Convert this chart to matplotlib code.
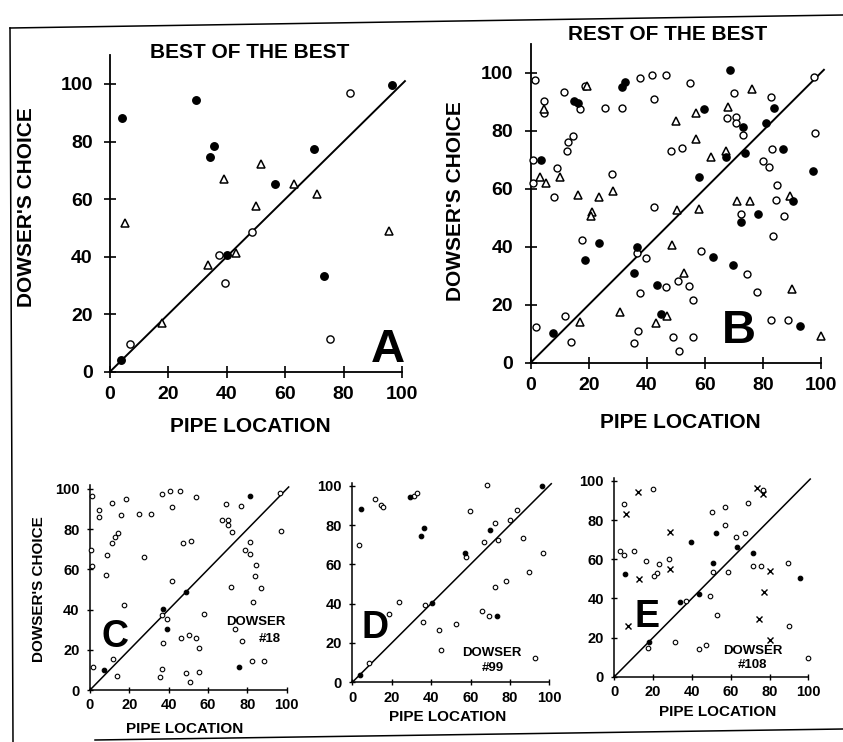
import matplotlib
matplotlib.use("Agg")
import matplotlib.pyplot as plt
from matplotlib.lines import Line2D

plt.rcParams['font.family'] = ['Liberation Sans', 'DejaVu Sans']
plt.rcParams['font.weight'] = 'bold'
NARROW = ['Liberation Sans Narrow', 'Liberation Sans', 'DejaVu Sans']

# ---- data (pipe location, dowser's choice) ----
a_filled = [(4.2, 88.1), (29.3, 94.6), (35.6, 78.3), (34.4, 74.5), (69.8, 77.3),
            (56.4, 65.4), (39.9, 40.6), (73.4, 33.3), (96.6, 99.8), (3.9, 4.1)]
a_open = [(82.1, 96.9), (6.8, 9.8), (48.7, 48.4), (37.3, 40.6), (39.3, 30.7), (75.5, 11.2)]
a_tri = [(5.1, 51.6), (17.7, 16.8), (33.5, 37.2), (43.1, 41.1), (38.9, 66.9),
         (49.9, 57.6), (51.7, 72.2), (62.9, 65.1), (70.8, 61.9), (95.4, 48.9)]

b_open = [(1.4, 97.5), (0.7, 69.9), (0.7, 62.1), (4.5, 90.1), (4.5, 86.2), (11.5, 93.3),
          (9.2, 67.2), (8.0, 57.2), (12.6, 73.1), (13.0, 76.1), (14.7, 78.2), (16.9, 87.5),
          (18.6, 95.4), (25.5, 87.8), (31.6, 87.8), (28.0, 65.2), (37.5, 98.3), (41.8, 99.2),
          (46.7, 99.3), (42.6, 90.9), (54.8, 96.3), (42.4, 53.7), (48.2, 73.1), (52.0, 74.0),
          (67.7, 84.4), (70.8, 84.6), (70.8, 82.5), (70.0, 92.9), (73.2, 78.6), (82.9, 91.6),
          (83.1, 73.7), (80.1, 69.4), (82.0, 67.6), (85.0, 61.4), (84.4, 56.2), (87.4, 50.7),
          (72.3, 51.3), (97.7, 98.5), (97.9, 79.3), (1.7, 12.2), (11.9, 16.2), (13.9, 7.2),
          (17.7, 42.3), (36.5, 37.9), (39.6, 36.0), (37.8, 23.9), (36.9, 11.0), (35.7, 6.7),
          (46.7, 26.2), (50.7, 28.3), (54.5, 26.4), (55.8, 21.5), (49.1, 9.0), (51.2, 3.9),
          (55.8, 9.0), (58.6, 38.4), (74.6, 30.6), (77.8, 24.5), (83.6, 43.7), (82.8, 14.6),
          (88.7, 14.7)]
b_filled = [(3.7, 69.8), (15.0, 90.4), (16.2, 89.5), (31.6, 94.9), (32.6, 96.9), (59.8, 87.4),
            (58.1, 64.0), (68.7, 100.8), (73.2, 81.4), (67.3, 71.0), (73.9, 72.4), (81.1, 82.5),
            (83.9, 87.8), (87.0, 73.7), (97.1, 66.1), (90.2, 55.6), (78.4, 51.3), (72.3, 48.5),
            (7.8, 10.1), (18.6, 35.4), (23.4, 41.4), (36.5, 40.0), (35.5, 30.8), (43.5, 26.9),
            (44.8, 16.9), (62.7, 36.6), (69.6, 33.7), (92.8, 12.8)]
b_tri = [(3.2, 64.1), (5.3, 61.8), (10.1, 64.0), (19.3, 95.4), (4.6, 87.5), (16.4, 57.7),
         (23.4, 57.2), (28.2, 59.1), (21.1, 52.1), (20.6, 50.7), (50.1, 83.4), (56.9, 86.0),
         (56.9, 77.0), (62.2, 70.8), (67.2, 73.1), (67.9, 88.3), (76.3, 94.4), (50.5, 52.6),
         (58.1, 53.0), (71.2, 55.7), (75.5, 55.7), (89.3, 57.5), (17.0, 13.9), (30.9, 17.4),
         (43.1, 13.6), (46.9, 16.1), (48.8, 40.6), (52.8, 31.0), (89.9, 25.5), (100.0, 9.1)]

c_open = [(1.2, 96.7), (0.3, 69.7), (0.8, 61.9), (4.4, 89.7), (4.4, 85.9), (11.0, 92.9),
          (8.6, 67.0), (8.1, 57.0), (11.4, 73.1), (12.5, 76.1), (14.1, 77.9), (15.9, 87.1),
          (18.1, 95.2), (24.9, 87.6), (31.0, 87.6), (27.5, 66.0), (17.1, 42.1), (1.7, 11.4),
          (11.9, 15.6), (13.9, 6.8), (36.8, 97.7), (40.8, 98.8), (45.6, 98.8), (41.9, 90.9),
          (53.7, 96.2), (41.9, 54.1), (47.3, 73.0), (51.2, 74.3), (36.8, 37.5), (39.2, 35.5),
          (37.1, 23.2), (36.6, 10.4), (35.6, 6.5), (46.3, 25.7), (50.5, 27.5), (54.1, 25.9),
          (55.4, 20.7), (48.8, 8.6), (50.8, 3.8), (55.6, 8.8), (58.1, 37.8), (69.0, 92.4),
          (66.9, 84.4), (70.2, 84.6), (70.2, 82.1), (72.0, 78.6), (76.8, 91.7), (81.5, 73.8),
          (78.8, 69.7), (81.2, 67.5), (84.4, 62.0), (83.7, 56.7), (86.8, 50.9), (71.7, 51.4),
          (82.7, 43.6), (73.9, 30.2), (77.1, 24.2), (82.4, 14.3), (88.5, 14.3), (96.6, 98.2),
          (96.9, 79.3)]
c_filled = [(6.9, 9.8), (36.9, 40.5), (39.2, 30.5), (48.8, 48.8), (81.5, 96.7), (75.6, 11.3)]

d_open = [(3.6, 70.0), (11.3, 93.1), (14.4, 90.3), (15.6, 89.0), (31.3, 94.6), (32.7, 96.3),
          (18.6, 34.9), (23.7, 41.0), (8.6, 10.0), (36.7, 39.5), (35.7, 30.5), (43.8, 26.4),
          (45.2, 16.6), (52.8, 29.8), (59.6, 87.1), (57.7, 63.7), (68.4, 100.3), (66.7, 71.5),
          (72.6, 81.2), (73.8, 72.4), (79.9, 82.5), (83.6, 87.6), (86.5, 73.6), (65.8, 36.1),
          (69.4, 33.6), (72.3, 48.5), (78.2, 51.4), (89.8, 55.9), (96.8, 65.9), (92.6, 12.5)]
d_filled = [(4.6, 88.1), (29.3, 94.4), (36.2, 78.5), (34.9, 74.2), (57.0, 65.9), (69.9, 77.5),
            (73.6, 33.6), (40.6, 40.5), (96.4, 100.0), (3.9, 3.7)]

e_open = [(5.2, 88.2), (2.9, 64.2), (5.2, 62.0), (10.0, 64.2), (19.8, 95.9), (16.3, 58.9),
          (23.0, 57.8), (28.2, 60.0), (21.8, 52.8), (20.4, 51.4), (17.2, 14.7), (31.3, 17.7),
          (37.1, 38.5), (43.6, 14.0), (47.1, 16.4), (49.1, 41.2), (52.9, 31.3), (50.5, 84.0),
          (57.0, 86.5), (57.0, 77.7), (50.9, 53.5), (58.8, 53.5), (62.5, 71.6), (67.5, 73.4),
          (68.7, 88.6), (76.5, 95.2), (71.6, 56.7), (75.8, 56.7), (89.5, 57.9), (90.0, 26.1),
          (100.0, 9.7)]
e_filled = [(5.7, 52.3), (39.3, 68.7), (50.9, 58.3), (52.4, 73.4), (63.2, 66.4), (71.6, 63.0),
            (34.0, 38.0), (43.8, 42.1), (17.7, 17.7), (95.7, 50.3)]
e_cross = [(12.0, 94.4), (6.0, 83.0), (28.5, 73.9), (12.7, 50.1), (28.7, 54.9), (7.0, 25.7),
           (73.7, 96.6), (76.8, 93.2), (80.1, 53.8), (77.3, 43.3), (74.7, 29.6), (80.2, 18.7)]

ticks = [0, 20, 40, 60, 80, 100]
diag = [0, 101]

W, H = 843, 742
fig = plt.figure(figsize=(W / 100, H / 100), dpi=100)


def px_axes(x0, y0, x100, y100, ytop):
    # place axes from pixel positions of the 0 and 100 ticks
    sx = (x100 - x0) / 100.0
    sy = (y0 - y100) / 100.0
    return fig.add_axes([x0 / W, (H - y0) / H, 100 * sx / W, ytop * sy / H])


def style(ax, ytop, big):
    ax.set_xlim(0, 100)
    ax.set_ylim(0, ytop)
    for s in ['top', 'right']:
        ax.spines[s].set_visible(False)
    for s in ['left', 'bottom']:
        ax.spines[s].set_linewidth(1.3 if big else 1.1)
    ax.set_xticks(ticks)
    ax.set_yticks(ticks)
    if big:
        ax.tick_params(direction='inout', length=9, width=1.2, labelsize=14)
        ax.tick_params(axis='x', pad=6)
        ax.tick_params(axis='y', pad=8)
    else:
        ax.tick_params(direction='inout', length=5, width=1.0, labelsize=10.5)
        ax.tick_params(axis='x', pad=3.5)
        ax.tick_params(axis='y', pad=5)
    for lab in ax.get_xticklabels() + ax.get_yticklabels():
        lab.set_family(NARROW)
    ax.plot(diag, diag, color='black', lw=1.4 if big else 1.1, clip_on=False)


def pts(ax, data, marker, filled, ms, mew):
    xs = [p[0] for p in data]
    ys = [p[1] for p in data]
    ax.plot(xs, ys, linestyle='none', marker=marker, ms=ms, mew=mew,
            mec='black', mfc='black' if filled else 'white', clip_on=False, zorder=3)


# ---- panel A ----
axA = px_axes(110, 371.7, 402, 84, 110)
style(axA, 110, True)
pts(axA, a_open, 'o', False, 5.2, 1.0)
pts(axA, a_tri, '^', False, 6.2, 1.1)
pts(axA, a_filled, 'o', True, 5.4, 1.0)
axA.set_xlabel('PIPE LOCATION', fontsize=15, fontweight='bold')
axA.xaxis.set_label_coords(0.48, -0.143)
axA.set_ylabel("DOWSER'S CHOICE", fontsize=15, fontweight='bold')
axA.yaxis.set_label_coords(-0.253, 0.52)
axA.text(95.2, 3.4, 'A', fontsize=34, fontweight='bold', ha='center', va='baseline')
fig.text(250 / W, 1 - 52 / H, 'BEST OF THE BEST', fontsize=15, fontweight='bold',
         ha='center', va='center')

# ---- panel B ----
axB = px_axes(530.7, 362.7, 821, 72.7, 110)
style(axB, 110, True)
pts(axB, b_open, 'o', False, 5.0, 1.0)
pts(axB, b_tri, '^', False, 5.8, 1.1)
pts(axB, b_filled, 'o', True, 5.2, 1.0)
axB.set_xlabel('PIPE LOCATION', fontsize=15, fontweight='bold')
axB.xaxis.set_label_coords(0.514, -0.158)
axB.set_ylabel("DOWSER'S CHOICE", fontsize=15, fontweight='bold')
axB.yaxis.set_label_coords(-0.226, 0.505)
axB.text(71.8, 6.8, 'B', fontsize=34, fontweight='bold', ha='center', va='baseline')
fig.text(668 / W, 1 - 35 / H, 'REST OF THE BEST', fontsize=15, fontweight='bold',
         ha='center', va='center')

# ---- panel C ----
axC = px_axes(90, 690, 286.7, 489, 102)
style(axC, 102, False)
pts(axC, c_open, 'o', False, 3.3, 0.8)
pts(axC, c_filled, 'o', True, 3.3, 0.8)
axC.set_xlabel('PIPE LOCATION', fontsize=11, fontweight='bold')
axC.xaxis.set_label_coords(0.483, -0.156)
axC.set_ylabel("DOWSER'S CHOICE", fontsize=11, fontweight='bold')
axC.yaxis.set_label_coords(-0.224, 0.49)
axC.text(12.7, 21.5, 'C', fontsize=27, fontweight='bold', ha='center', va='baseline')
axC.text(84.4, 32.3, 'DOWSER', fontsize=9.5, fontweight='bold', ha='center', va='baseline')
axC.text(91.5, 24.0, '#18', fontsize=9.5, fontweight='bold', ha='center', va='baseline')

# ---- panel D ----
axD = px_axes(352.3, 682.3, 549.3, 485.7, 101.5)
style(axD, 101.5, False)
pts(axD, d_open, 'o', False, 3.3, 0.8)
pts(axD, d_filled, 'o', True, 3.3, 0.8)
axD.set_xlabel('PIPE LOCATION', fontsize=11, fontweight='bold')
axD.xaxis.set_label_coords(0.486, -0.138)
axD.text(11.8, 22.5, 'D', fontsize=27, fontweight='bold', ha='center', va='baseline')
axD.text(70.9, 13.2, 'DOWSER', fontsize=9.5, fontweight='bold', ha='center', va='baseline')
axD.text(71.4, 5.9, '#99', fontsize=9.5, fontweight='bold', ha='center', va='baseline')

# ---- panel E ----
axE = px_axes(614.3, 676.7, 808.3, 481, 101.5)
style(axE, 101.5, False)
pts(axE, e_open, 'o', False, 3.3, 0.8)
pts(axE, e_filled, 'o', True, 3.3, 0.8)
pts(axE, e_cross, 'x', False, 3.8, 1.0)
axE.set_xlabel('PIPE LOCATION', fontsize=11, fontweight='bold')
axE.xaxis.set_label_coords(0.534, -0.142)
axE.text(17.1, 25.4, 'E', fontsize=27, fontweight='bold', ha='center', va='baseline')
axE.text(71.2, 11.8, 'DOWSER', fontsize=9.5, fontweight='bold', ha='center', va='baseline')
axE.text(71.2, 4.6, '#108', fontsize=9.5, fontweight='bold', ha='center', va='baseline')

# page frame from the scan
frame = [((10, 28), (843, 15)), ((10, 28), (13, 742)), ((95, 740), (843, 729))]
for (x1, y1), (x2, y2) in frame:
    fig.add_artist(Line2D([x1 / W, x2 / W], [1 - y1 / H, 1 - y2 / H],
                          color='black', lw=1.1))

fig.savefig('out.png', dpi=100)
